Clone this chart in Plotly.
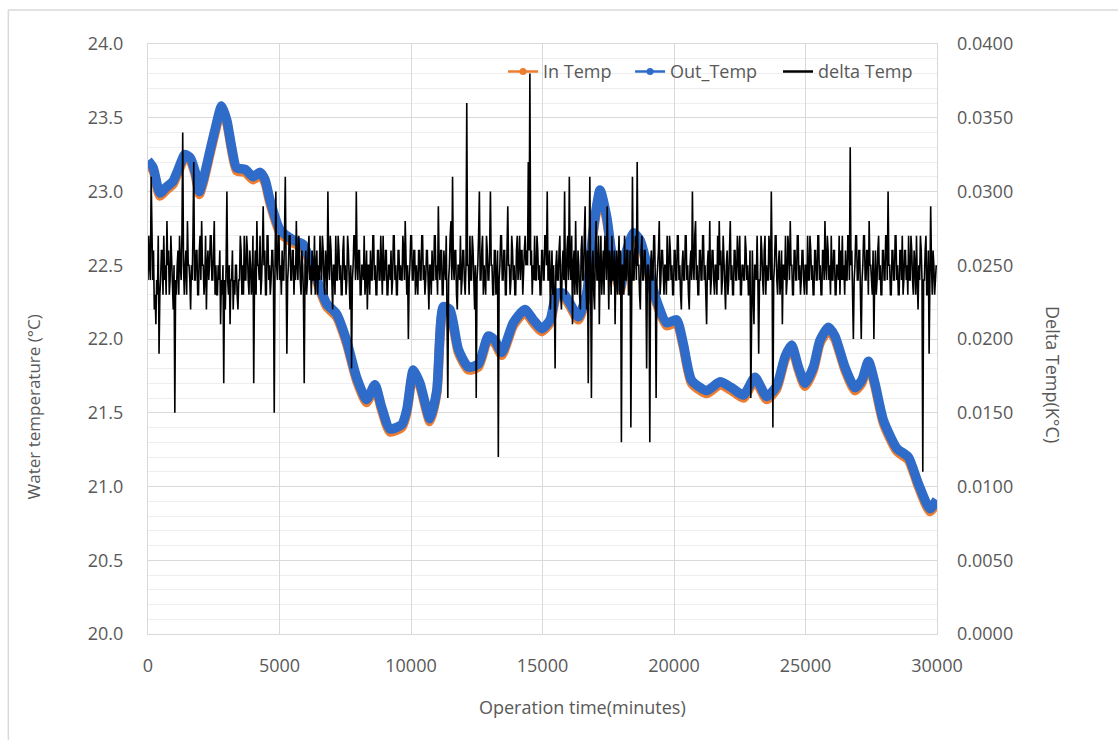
import plotly.graph_objects as go

# ---------------- data ----------------
temp_time = [0, 200, 450, 700, 950, 1150, 1400, 1600, 1800, 1950, 2100, 2350, 2550, 2800, 3000,
             3180, 3370, 3690, 4000, 4260, 4450, 4640, 5020, 5530, 5900, 6290, 6790, 7170, 7550,
             7930, 8310, 8630, 8880, 9200, 9650, 9840, 10090, 10340, 10720, 10980, 11230, 11480,
             11800, 12180, 12560, 12940, 13190, 13450, 13890, 14330, 14650, 14970, 15290, 15540,
             15790, 16050, 16360, 16680, 16930, 17190, 17440, 17690, 17950, 18200, 18450, 18710,
             19020, 19340, 19720, 20100, 20350, 20670, 21240, 21750, 22190, 22640, 23080, 23520,
             23900, 24220, 24470, 24730, 24980, 25300, 25550, 25870, 26120, 26500, 26880, 27140,
             27390, 27640, 27960, 28470, 28910, 29290, 29730, 29990]

out_temp = [23.21, 23.16, 22.99, 23.03, 23.07, 23.15, 23.25, 23.23, 23.13, 23.00, 23.08, 23.27,
            23.42, 23.58, 23.48, 23.30, 23.16, 23.15, 23.10, 23.13, 23.08, 22.94, 22.74, 22.67,
            22.64, 22.47, 22.24, 22.17, 21.99, 21.74, 21.59, 21.69, 21.54, 21.39, 21.42, 21.52,
            21.79, 21.70, 21.46, 21.65, 22.22, 22.20, 21.93, 21.81, 21.83, 22.02, 21.99, 21.91,
            22.11, 22.20, 22.13, 22.07, 22.13, 22.31, 22.31, 22.24, 22.15, 22.31, 22.74, 23.01,
            22.83, 22.51, 22.35, 22.60, 22.72, 22.67, 22.47, 22.26, 22.11, 22.13, 21.97, 21.72,
            21.65, 21.71, 21.67, 21.62, 21.74, 21.61, 21.68, 21.88, 21.96, 21.81, 21.70, 21.81,
            21.99, 22.08, 22.02, 21.81, 21.67, 21.72, 21.85, 21.70, 21.45, 21.26, 21.20, 21.02,
            20.85, 20.91]

in_temp = [23.19, 23.14, 22.97, 23.01, 23.05, 23.13, 23.23, 23.21, 23.11, 22.98, 23.06, 23.25,
           23.40, 23.56, 23.46, 23.28, 23.14, 23.13, 23.08, 23.11, 23.06, 22.92, 22.72, 22.65,
           22.62, 22.45, 22.22, 22.15, 21.97, 21.72, 21.57, 21.67, 21.52, 21.37, 21.40, 21.50,
           21.77, 21.68, 21.44, 21.63, 22.20, 22.18, 21.91, 21.79, 21.81, 22.00, 21.97, 21.89,
           22.09, 22.18, 22.11, 22.05, 22.11, 22.29, 22.29, 22.22, 22.13, 22.29, 22.72, 22.99,
           22.81, 22.49, 22.33, 22.58, 22.70, 22.65, 22.45, 22.24, 22.09, 22.11, 21.95, 21.70,
           21.63, 21.69, 21.65, 21.60, 21.72, 21.59, 21.66, 21.86, 21.94, 21.79, 21.68, 21.79,
           21.97, 22.06, 22.00, 21.79, 21.65, 21.70, 21.83, 21.68, 21.43, 21.24, 21.18, 21.00,
           20.83, 20.89]

delta_step_min = 30  # sampling interval of the delta series (minutes)
delta_temp = [
    # 0 - 1170
    0.024, 0.027, 0.025, 0.024, 0.031, 0.025, 0.024, 0.026, 0.022, 0.023, 0.021, 0.024, 0.023, 0.027, 0.019, 0.023, 0.024, 0.026, 0.026, 0.023,
    0.027, 0.024, 0.025, 0.023, 0.028, 0.025, 0.026, 0.023, 0.024, 0.027, 0.025, 0.024, 0.022, 0.025, 0.015, 0.024, 0.023, 0.025, 0.026, 0.023,
    # 1200 - 2370
    0.027, 0.025, 0.024, 0.027, 0.034, 0.025, 0.023, 0.025, 0.026, 0.023, 0.028, 0.025, 0.025, 0.024, 0.022, 0.025, 0.024, 0.027, 0.032, 0.024,
    0.024, 0.026, 0.026, 0.023, 0.023, 0.026, 0.027, 0.024, 0.028, 0.025, 0.025, 0.023, 0.024, 0.027, 0.022, 0.025, 0.026, 0.024, 0.025, 0.027,
    # 2400 - 3570
    0.027, 0.024, 0.024, 0.026, 0.028, 0.023, 0.025, 0.023, 0.023, 0.025, 0.024, 0.026, 0.021, 0.024, 0.023, 0.025, 0.017, 0.024, 0.022, 0.025,
    0.030, 0.024, 0.023, 0.025, 0.021, 0.024, 0.024, 0.026, 0.022, 0.024, 0.023, 0.025, 0.025, 0.023, 0.022, 0.024, 0.024, 0.027, 0.026, 0.023,
    # 3600 - 4770
    0.025, 0.023, 0.027, 0.024, 0.024, 0.027, 0.026, 0.024, 0.023, 0.026, 0.025, 0.023, 0.024, 0.027, 0.017, 0.024, 0.026, 0.023, 0.028, 0.025,
    0.025, 0.024, 0.027, 0.023, 0.024, 0.026, 0.029, 0.025, 0.026, 0.023, 0.023, 0.027, 0.027, 0.024, 0.025, 0.023, 0.024, 0.026, 0.026, 0.024,
    # 4800 - 5970
    0.015, 0.025, 0.030, 0.025, 0.024, 0.027, 0.027, 0.024, 0.025, 0.023, 0.026, 0.024, 0.024, 0.027, 0.031, 0.025, 0.019, 0.024, 0.025, 0.027,
    0.027, 0.024, 0.024, 0.026, 0.026, 0.023, 0.025, 0.024, 0.028, 0.025, 0.024, 0.027, 0.026, 0.024, 0.023, 0.026, 0.025, 0.023, 0.017, 0.025,
    # 6000 - 7170
    0.026, 0.023, 0.024, 0.026, 0.027, 0.024, 0.025, 0.023, 0.026, 0.024, 0.024, 0.027, 0.023, 0.025, 0.026, 0.023, 0.025, 0.024, 0.027, 0.025,
    0.024, 0.027, 0.026, 0.024, 0.023, 0.026, 0.025, 0.023, 0.030, 0.025, 0.024, 0.027, 0.026, 0.024, 0.022, 0.025, 0.025, 0.023, 0.027, 0.024,
    # 7200 - 8370
    0.024, 0.027, 0.026, 0.024, 0.025, 0.023, 0.023, 0.026, 0.027, 0.024, 0.025, 0.023, 0.024, 0.027, 0.026, 0.024, 0.022, 0.025, 0.018, 0.024,
    0.025, 0.027, 0.027, 0.024, 0.030, 0.025, 0.024, 0.026, 0.026, 0.023, 0.023, 0.025, 0.025, 0.024, 0.027, 0.023, 0.024, 0.026, 0.022, 0.025,
    # 8400 - 9570
    0.025, 0.023, 0.026, 0.024, 0.024, 0.027, 0.027, 0.024, 0.025, 0.023, 0.023, 0.026, 0.026, 0.024, 0.024, 0.027, 0.025, 0.023, 0.027, 0.024,
    0.024, 0.026, 0.026, 0.023, 0.023, 0.025, 0.025, 0.024, 0.026, 0.023, 0.024, 0.027, 0.027, 0.024, 0.025, 0.023, 0.023, 0.026, 0.026, 0.024,
    # 9600 - 10770
    0.025, 0.024, 0.024, 0.027, 0.026, 0.024, 0.028, 0.025, 0.023, 0.025, 0.020, 0.024, 0.025, 0.027, 0.027, 0.024, 0.024, 0.026, 0.026, 0.023,
    0.025, 0.024, 0.023, 0.026, 0.026, 0.024, 0.024, 0.027, 0.027, 0.024, 0.025, 0.023, 0.024, 0.026, 0.026, 0.024, 0.022, 0.025, 0.025, 0.023,
    # 10800 - 11970
    0.026, 0.024, 0.024, 0.027, 0.027, 0.024, 0.025, 0.023, 0.029, 0.025, 0.024, 0.026, 0.026, 0.023, 0.023, 0.026, 0.025, 0.024, 0.027, 0.023,
    0.016, 0.024, 0.025, 0.027, 0.028, 0.024, 0.031, 0.025, 0.024, 0.026, 0.026, 0.023, 0.022, 0.025, 0.025, 0.024, 0.027, 0.023, 0.024, 0.026,
    # 12000 - 13170
    0.026, 0.024, 0.023, 0.025, 0.036, 0.025, 0.025, 0.023, 0.027, 0.024, 0.024, 0.027, 0.026, 0.024, 0.022, 0.025, 0.016, 0.024, 0.025, 0.027,
    0.030, 0.024, 0.024, 0.026, 0.027, 0.023, 0.025, 0.024, 0.023, 0.027, 0.026, 0.024, 0.024, 0.026, 0.030, 0.025, 0.025, 0.023, 0.023, 0.026,
    # 13200 - 14370
    0.026, 0.023, 0.024, 0.026, 0.012, 0.024, 0.025, 0.027, 0.027, 0.024, 0.024, 0.026, 0.026, 0.023, 0.023, 0.026, 0.029, 0.025, 0.025, 0.023,
    0.024, 0.027, 0.026, 0.024, 0.025, 0.023, 0.023, 0.026, 0.027, 0.024, 0.025, 0.027, 0.024, 0.026, 0.026, 0.023, 0.025, 0.026, 0.027, 0.025,
    # 14400 - 15570
    0.026, 0.025, 0.032, 0.026, 0.038, 0.025, 0.026, 0.023, 0.025, 0.024, 0.027, 0.024, 0.024, 0.027, 0.026, 0.024, 0.025, 0.023, 0.023, 0.026,
    0.026, 0.024, 0.024, 0.027, 0.027, 0.025, 0.030, 0.024, 0.024, 0.026, 0.022, 0.025, 0.026, 0.023, 0.025, 0.023, 0.018, 0.025, 0.026, 0.024,
    # 15600 - 16770
    0.024, 0.026, 0.027, 0.023, 0.022, 0.025, 0.026, 0.024, 0.030, 0.024, 0.023, 0.026, 0.027, 0.024, 0.031, 0.025, 0.024, 0.027, 0.021, 0.025,
    0.026, 0.023, 0.028, 0.024, 0.023, 0.026, 0.025, 0.023, 0.022, 0.026, 0.027, 0.024, 0.024, 0.027, 0.029, 0.024, 0.022, 0.026, 0.017, 0.025,
    # 16800 - 17970
    0.031, 0.024, 0.016, 0.025, 0.026, 0.023, 0.022, 0.026, 0.028, 0.024, 0.024, 0.027, 0.021, 0.025, 0.027, 0.023, 0.025, 0.026, 0.023, 0.027,
    0.026, 0.024, 0.029, 0.024, 0.022, 0.026, 0.025, 0.023, 0.027, 0.024, 0.024, 0.026, 0.021, 0.025, 0.026, 0.023, 0.025, 0.027, 0.023, 0.026,
    # 18000 - 19170
    0.013, 0.025, 0.025, 0.023, 0.027, 0.024, 0.024, 0.026, 0.026, 0.023, 0.023, 0.026, 0.014, 0.025, 0.031, 0.024, 0.024, 0.026, 0.027, 0.024,
    0.032, 0.025, 0.025, 0.023, 0.022, 0.026, 0.027, 0.024, 0.024, 0.026, 0.026, 0.024, 0.018, 0.025, 0.025, 0.024, 0.013, 0.025, 0.026, 0.024,
    # 19200 - 20370
    0.024, 0.027, 0.027, 0.024, 0.016, 0.024, 0.025, 0.026, 0.028, 0.023, 0.024, 0.026, 0.026, 0.024, 0.023, 0.025, 0.025, 0.023, 0.027, 0.024,
    0.024, 0.027, 0.026, 0.024, 0.025, 0.023, 0.023, 0.026, 0.026, 0.024, 0.024, 0.027, 0.027, 0.024, 0.025, 0.023, 0.022, 0.025, 0.026, 0.024,
    # 20400 - 21570
    0.024, 0.027, 0.027, 0.024, 0.025, 0.023, 0.022, 0.025, 0.026, 0.024, 0.030, 0.025, 0.024, 0.027, 0.028, 0.024, 0.025, 0.023, 0.023, 0.026,
    0.026, 0.024, 0.024, 0.027, 0.027, 0.024, 0.025, 0.023, 0.021, 0.025, 0.026, 0.024, 0.028, 0.023, 0.024, 0.026, 0.026, 0.024, 0.023, 0.025,
    # 21600 - 22770
    0.025, 0.023, 0.027, 0.024, 0.028, 0.025, 0.026, 0.023, 0.024, 0.027, 0.025, 0.024, 0.022, 0.025, 0.026, 0.023, 0.024, 0.026, 0.028, 0.024,
    0.025, 0.023, 0.023, 0.026, 0.026, 0.024, 0.024, 0.027, 0.025, 0.024, 0.027, 0.023, 0.023, 0.025, 0.025, 0.024, 0.024, 0.027, 0.026, 0.024,
    # 22800 - 23970
    0.025, 0.023, 0.023, 0.026, 0.016, 0.024, 0.026, 0.023, 0.021, 0.025, 0.025, 0.024, 0.027, 0.024, 0.019, 0.024, 0.024, 0.027, 0.026, 0.024,
    0.023, 0.026, 0.027, 0.023, 0.025, 0.024, 0.024, 0.027, 0.026, 0.024, 0.030, 0.025, 0.014, 0.024, 0.025, 0.027, 0.027, 0.024, 0.023, 0.025,
    # 24000 - 25170
    0.026, 0.023, 0.024, 0.026, 0.021, 0.025, 0.025, 0.024, 0.027, 0.023, 0.024, 0.027, 0.026, 0.024, 0.028, 0.025, 0.025, 0.023, 0.023, 0.026,
    0.026, 0.024, 0.024, 0.027, 0.027, 0.024, 0.025, 0.023, 0.024, 0.026, 0.026, 0.024, 0.023, 0.025, 0.025, 0.023, 0.027, 0.024, 0.024, 0.027,
    # 25200 - 26370
    0.026, 0.024, 0.025, 0.023, 0.023, 0.026, 0.026, 0.024, 0.024, 0.027, 0.027, 0.024, 0.025, 0.023, 0.023, 0.026, 0.026, 0.024, 0.028, 0.025,
    0.024, 0.027, 0.026, 0.024, 0.025, 0.023, 0.027, 0.024, 0.024, 0.026, 0.026, 0.023, 0.023, 0.025, 0.025, 0.024, 0.027, 0.023, 0.026, 0.024,
    # 26400 - 27570
    0.027, 0.024, 0.025, 0.023, 0.026, 0.024, 0.024, 0.027, 0.027, 0.024, 0.033, 0.025, 0.026, 0.023, 0.020, 0.024, 0.025, 0.027, 0.027, 0.024,
    0.024, 0.026, 0.026, 0.023, 0.020, 0.024, 0.025, 0.027, 0.027, 0.024, 0.024, 0.026, 0.026, 0.023, 0.028, 0.025, 0.025, 0.024, 0.023, 0.026,
    # 27600 - 28770
    0.020, 0.024, 0.026, 0.023, 0.024, 0.026, 0.027, 0.024, 0.025, 0.023, 0.023, 0.026, 0.026, 0.024, 0.024, 0.027, 0.027, 0.024, 0.030, 0.025,
    0.025, 0.023, 0.023, 0.026, 0.026, 0.024, 0.024, 0.027, 0.027, 0.024, 0.025, 0.023, 0.023, 0.026, 0.026, 0.024, 0.027, 0.023, 0.024, 0.026,
    # 28800 - 29970
    0.026, 0.024, 0.025, 0.023, 0.027, 0.024, 0.024, 0.027, 0.026, 0.024, 0.023, 0.026, 0.025, 0.023, 0.027, 0.024, 0.022, 0.025, 0.024, 0.027,
    0.026, 0.024, 0.011, 0.024, 0.024, 0.026, 0.027, 0.023, 0.023, 0.026, 0.019, 0.024, 0.029, 0.025, 0.023, 0.026, 0.025, 0.023, 0.024, 0.025,
]
delta_time = [i * delta_step_min for i in range(len(delta_temp))]

x_ticks = [0, 5000, 10000, 15000, 20000, 25000, 30000]

# ---------------- styling ----------------
ORANGE = "#ED7D31"
BLUE = "#2F6CC9"
TXT = "#595959"
FONT = "Open Sans"
GRID = "#d9d9d9"
MINOR = "#eeeeee"
FS = 18

fig = go.Figure()

# data traces (legend entries drawn by the legend-only traces below)
fig.add_trace(go.Scatter(x=temp_time, y=in_temp, mode="lines", name="In Temp",
                         line=dict(color=ORANGE, width=9.5, shape="spline", smoothing=0.6),
                         showlegend=False, yaxis="y"))
fig.add_trace(go.Scatter(x=temp_time, y=out_temp, mode="lines", name="Out_Temp",
                         line=dict(color=BLUE, width=9.5, shape="spline", smoothing=0.6),
                         showlegend=False, yaxis="y"))
fig.add_trace(go.Scatter(x=delta_time, y=delta_temp, mode="lines", name="delta Temp",
                         line=dict(color="#000000", width=1.6),
                         showlegend=False, yaxis="y2"))

# legend entries, one legend each so their positions match the reference
fig.add_trace(go.Scatter(x=[None], y=[None], mode="lines+markers", name="In Temp",
                         line=dict(color=ORANGE, width=2.5), marker=dict(color=ORANGE, size=7),
                         legend="legend"))
fig.add_trace(go.Scatter(x=[None], y=[None], mode="lines+markers", name="Out_Temp",
                         line=dict(color=BLUE, width=2.5), marker=dict(color=BLUE, size=7),
                         legend="legend2"))
fig.add_trace(go.Scatter(x=[None], y=[None], mode="lines", name="delta Temp",
                         line=dict(color="#000000", width=2.5), legend="legend3"))

leg_common = dict(orientation="h", y=0.953, xanchor="left", yanchor="middle",
                  bgcolor="rgba(0,0,0,0)", font=dict(size=FS, color=TXT, family=FONT),
                  itemwidth=30)

fig.update_layout(
    width=1118, height=740,
    margin=dict(l=148, r=181, t=44, b=106),
    paper_bgcolor="white", plot_bgcolor="white",
    font=dict(family=FONT, color=TXT, size=FS),
    xaxis=dict(range=[0, 30000], tickvals=x_ticks, ticktext=[str(v) for v in x_ticks],
               showgrid=True, gridcolor=GRID, gridwidth=1, zeroline=False,
               showline=True, linecolor=GRID, mirror=True, ticks="",
               tickfont=dict(size=FS, color=TXT), ticklabelstandoff=15),
    yaxis=dict(range=[20, 24], dtick=0.5, tickformat=".1f", showgrid=True,
               gridcolor=GRID, gridwidth=1, zeroline=False,
               showline=True, linecolor=GRID, mirror=True, ticks="",
               minor=dict(dtick=0.1, showgrid=True, gridcolor=MINOR, gridwidth=1),
               tickfont=dict(size=FS, color=TXT), ticklabelstandoff=20),
    yaxis2=dict(range=[0, 0.04], dtick=0.005, tickformat=".4f", overlaying="y", side="right",
                showgrid=False, zeroline=False, showline=False, ticks="",
                tickfont=dict(size=FS, color=TXT), ticklabelstandoff=19),
    legend=dict(x=0.450, **leg_common),
    legend2=dict(x=0.611, **leg_common),
    legend3=dict(x=0.7985, **leg_common),
    showlegend=True,
)

# axis titles
fig.add_annotation(text="Water temperature (°C)", xref="paper", yref="paper",
                   x=-0.145, y=0.385, textangle=-90, showarrow=False,
                   font=dict(size=17, color=TXT), xanchor="center", yanchor="middle")
fig.add_annotation(text="Delta Temp(K°C)", xref="paper", yref="paper",
                   x=1.147, y=0.439, textangle=90, showarrow=False,
                   font=dict(size=FS, color=TXT), xanchor="center", yanchor="middle")
fig.add_annotation(text="Operation time(minutes)", xref="paper", yref="paper",
                   x=0.551, y=-0.124, showarrow=False,
                   font=dict(size=FS, color=TXT), xanchor="center", yanchor="middle")

# outer chart-area frame (left and top edges visible in the reference)
fig.add_shape(type="line", xref="paper", yref="paper", x0=-0.177, x1=1.25, y0=1.0576, y1=1.0576,
              line=dict(color=GRID, width=1.5))
fig.add_shape(type="line", xref="paper", yref="paper", x0=-0.177, x1=-0.177, y0=1.0576, y1=-0.2,
              line=dict(color=GRID, width=1.5))

fig.write_html("out.html")
